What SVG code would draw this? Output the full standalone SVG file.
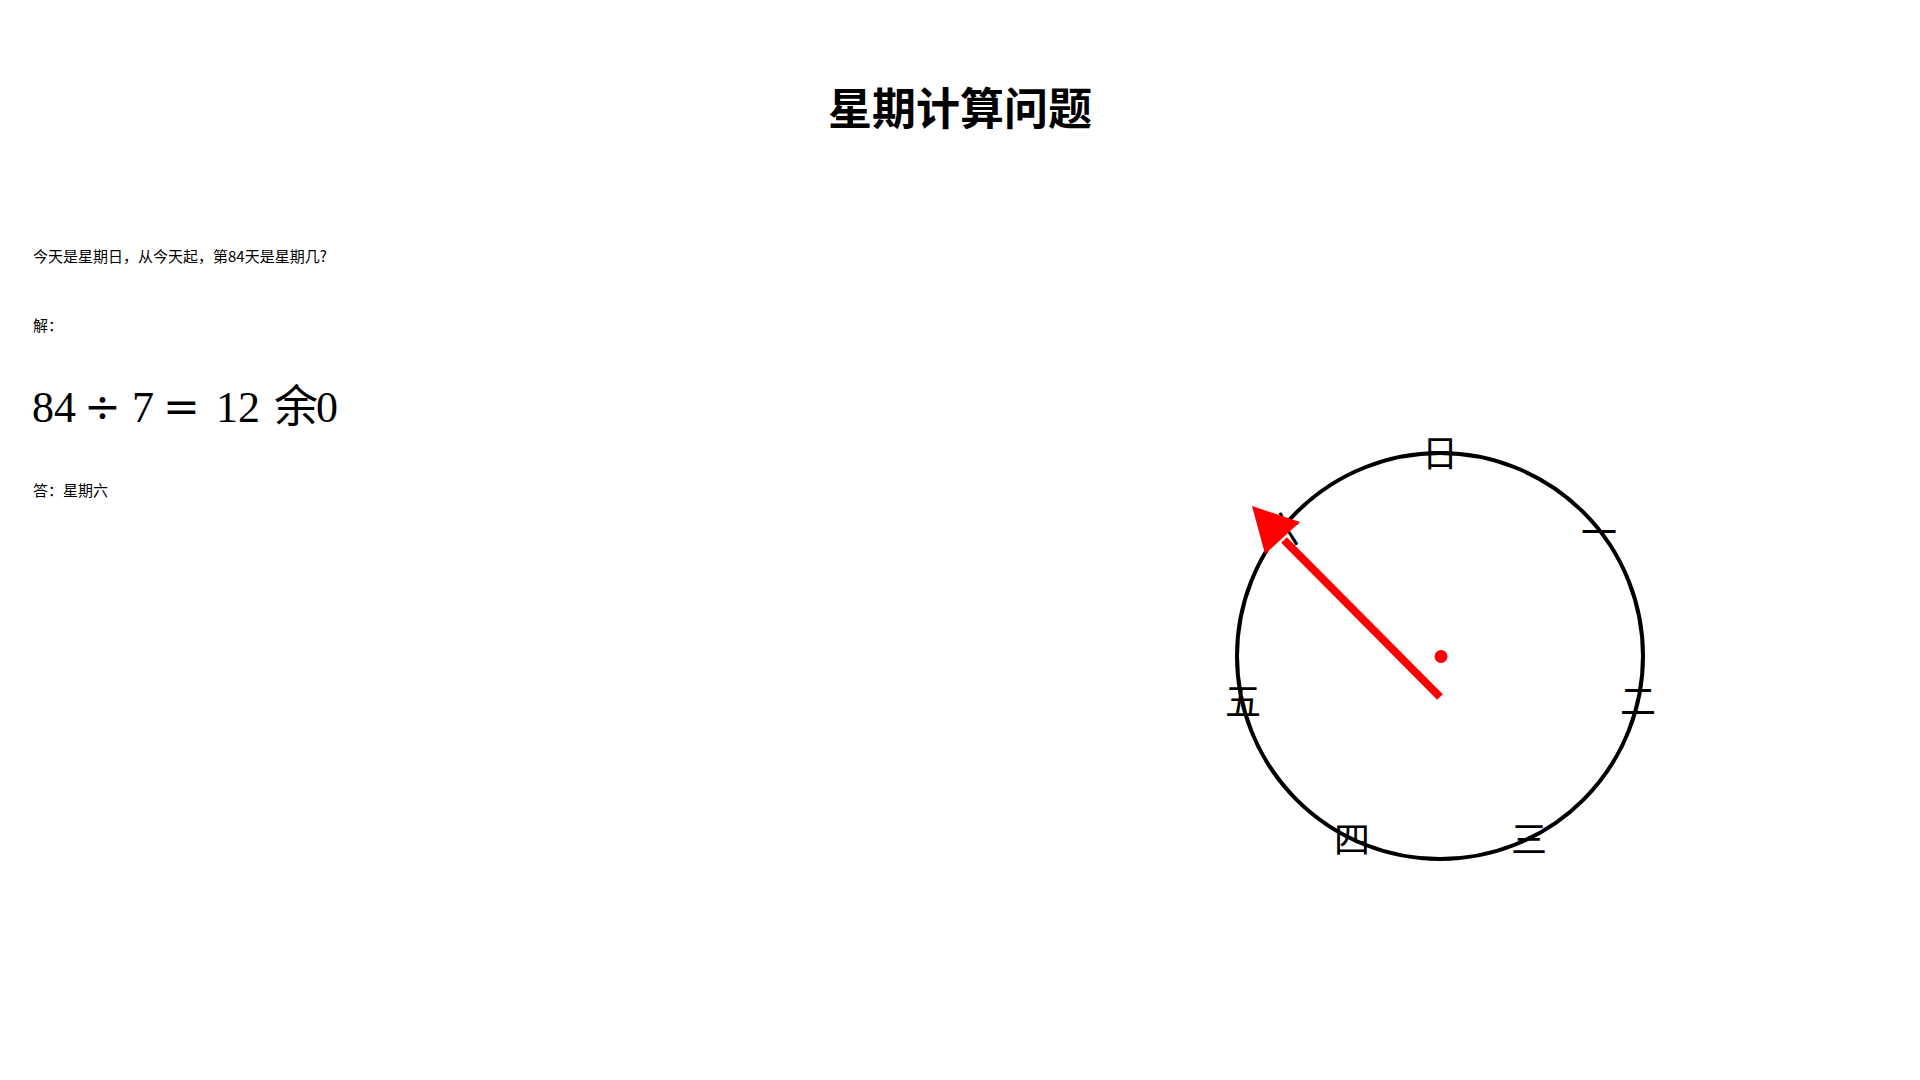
<svg xmlns="http://www.w3.org/2000/svg" width="1920" height="1080" viewBox="0 0 1920 1080">
<style>
.title{font-family:"Noto Sans CJK SC","Noto Sans",sans-serif;font-size:44px;font-weight:bold;fill:#000}
.body{font-family:"Noto Sans CJK SC","Noto Sans",sans-serif;font-size:15px;fill:#000}
.math{font-family:"Liberation Serif","Noto Sans CJK SC",serif;font-size:44px;fill:#000}
.op{font-family:"DejaVu Serif",serif;font-size:44px}
.day{font-family:"Noto Sans CJK SC",sans-serif;font-size:36px;fill:#000;text-anchor:middle}
</style>
<rect width="1920" height="1080" fill="#fff"/>
<g id="title"><text class="title" x="960" y="125" text-anchor="middle">星期计算问题</text></g>
<g id="question"><text class="body" x="33" y="262">今天是星期日，从今天起，第84天是星期几?</text></g>
<g id="solution-label"><text class="body" x="33" y="331">解：</text></g>
<g id="equation">
<text class="math" y="422"><tspan x="32">84</tspan><tspan class="op" x="84">÷</tspan><tspan x="132">7</tspan><tspan class="op" x="163">=</tspan><tspan x="216">12</tspan><tspan x="274">余</tspan><tspan x="316">0</tspan></text>
</g>
<g id="answer"><text class="body" x="33" y="496">答：星期六</text></g>
<g id="clock">
<circle cx="1440" cy="656" r="203" fill="none" stroke="#000" stroke-width="4"/>
<circle cx="1441" cy="656.5" r="6.5" fill="#f00"/>
</g>
<g id="labels">
<g id="day-0"><text class="day" x="1440" y="467">日</text></g>
<g id="day-1"><text class="day" x="1599" y="546">一</text></g>
<g id="day-2"><text class="day" x="1638" y="715">二</text></g>
<g id="day-3"><text class="day" x="1529" y="853">三</text></g>
<g id="day-4"><text class="day" x="1352" y="853">四</text></g>
<g id="day-5"><text class="day" x="1243" y="715">五</text></g>
<g id="day-6"><text class="day" x="1282" y="543">六</text></g>
</g>
<g id="connectors">
<line x1="1440" y1="697" x2="1284" y2="540" stroke="#f00" stroke-width="8"/>
<polygon points="1252,506 1300,522 1265,554" fill="#f00"/>
</g>
</svg>
